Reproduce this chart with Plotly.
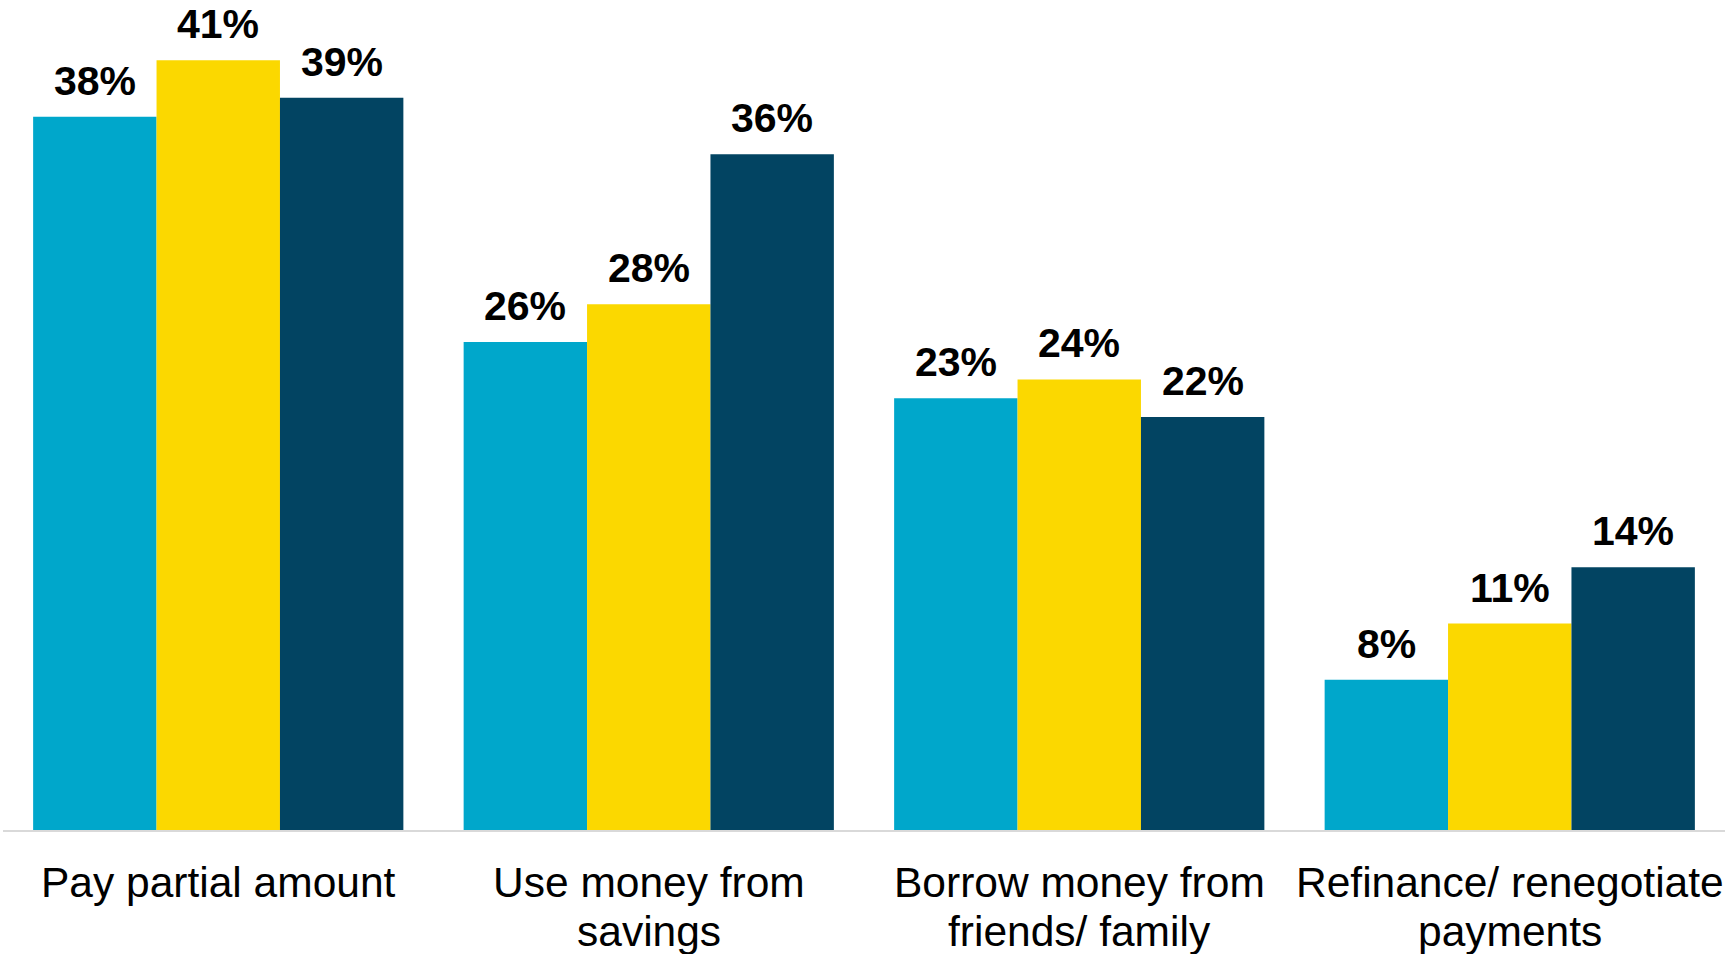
import plotly.graph_objects as go

# Data
categories = [
    "Pay partial amount",
    "Use money from<br>savings",
    "Borrow money from<br>friends/ family",
    "Refinance/ renegotiate<br>payments",
]
series_names = ["Group A", "Group B", "Group C"]
group_a = [38, 26, 23, 8]
group_b = [41, 28, 24, 11]
group_c = [39, 36, 22, 14]
series_values = [group_a, group_b, group_c]
colors = ["#00A7CB", "#FBD800", "#024462"]

FONT = "Liberation Sans, Arial, sans-serif"
BARGAP = 0.14
n_series = len(series_values)
bar_w = (1 - BARGAP) / n_series
x_idx = list(range(len(categories)))

fig = go.Figure()
for name, vals, col in zip(series_names, series_values, colors):
    fig.add_trace(go.Bar(
        x=x_idx, y=vals, name=name,
        marker=dict(color=col, line=dict(width=0)),
        hoverinfo="skip",
    ))

annotations = []
# value labels above each bar
for j, vals in enumerate(series_values):
    offset = (j - (n_series - 1) / 2) * bar_w
    for i, v in enumerate(vals):
        annotations.append(dict(
            x=i + offset, y=v, xref="x", yref="y",
            text=f"{v}%", showarrow=False,
            yanchor="bottom", xanchor="center", yshift=11,
            font=dict(family=FONT, size=41, color="#000000", weight="bold"),
        ))

# category labels under the axis, one annotation per line
for i, cat in enumerate(categories):
    for k, line in enumerate(cat.split("<br>")):
        annotations.append(dict(
            x=i, y=0, xref="x", yref="paper",
            text=line, showarrow=False,
            yanchor="top", xanchor="center", yshift=-27 - 49 * k,
            font=dict(family=FONT, size=42.5, color="#000000"),
        ))

fig.update_layout(
    width=1726, height=954,
    margin=dict(l=3, r=1, t=4, b=124),
    paper_bgcolor="white", plot_bgcolor="white",
    barmode="group", bargap=BARGAP, bargroupgap=0,
    showlegend=False,
    annotations=annotations,
    xaxis=dict(
        range=[-0.5, len(categories) - 0.5],
        showticklabels=False, showgrid=False, zeroline=False,
        showline=True, linecolor="#D9D9D9", linewidth=2, ticks="",
        fixedrange=True,
    ),
    yaxis=dict(
        range=[0, 44], visible=False, showgrid=False, zeroline=False,
        fixedrange=True,
    ),
)

fig.write_html("out.html", config={"displayModeBar": False})
